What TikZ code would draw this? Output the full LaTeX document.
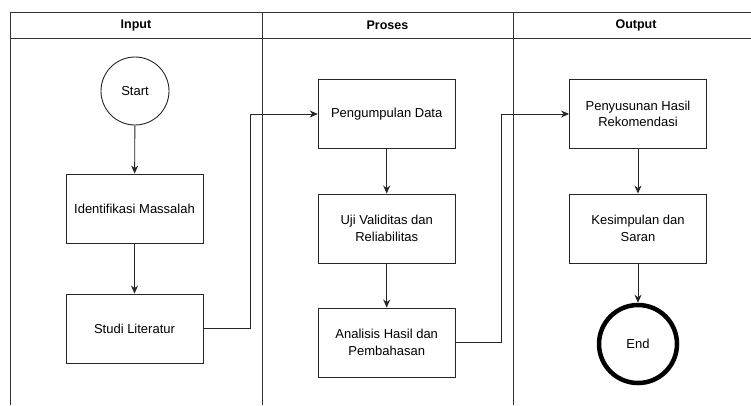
\documentclass[tikz,border=0pt]{standalone}
\usepackage{fontspec}
\setmainfont{Liberation Sans}
\usetikzlibrary{arrows.meta,shadows}
\begin{document}
\begin{tikzpicture}[x=1pt,y=-1pt,
  lane/.style={draw=black!80,line width=0.9pt},
  hdr/.style={font=\fontsize{12.5}{14}\selectfont\bfseries},
  proc/.style={draw=black!85,line width=0.9pt,rectangle,minimum width=137pt,minimum height=69pt,align=center,font=\fontsize{13}{16.5}\selectfont,inner sep=2pt},
  startc/.style={draw=black!85,line width=0.9pt,circle,minimum size=68pt,inner sep=0pt,font=\fontsize{13}{16}\selectfont},
  endc/.style={draw=black,line width=4.5pt,circle,minimum size=78pt,inner sep=0pt,font=\fontsize{13}{16}\selectfont,fill=white,drop shadow={opacity=0.35,shadow xshift=1.5pt,shadow yshift=-2pt}},
  conn/.style={draw=black!85,line width=0.9pt,-{Stealth[length=8pt,width=7pt]}}
]
\useasboundingbox (0,0) rectangle (751,405);
\fill[white] (0,0) rectangle (751,405);
% swimlanes
\draw[lane] (10,405) -- (10,12) -- (751,12);
\draw[lane] (10,38) -- (751,38);
\draw[lane] (262,12) -- (262,405);
\draw[lane] (513,12) -- (513,405);
\node[hdr] (hIn) at (136,25) {Input};
\node[hdr] (hPr) at (387.5,25) {Proses};
\node[hdr] (hOut) at (636,25) {Output};
% nodes
\node[startc] (start) at (135,91) {Start};
\node[proc] (ident) at (134.5,208.5) {Identifikasi Massalah};
\node[proc] (studi) at (134.5,328.5) {Studi Literatur};
\node[proc] (peng) at (386.7,114) {Pengumpulan Data};
\node[proc] (uji) at (386.7,228.5) {Uji Validitas dan\\Reliabilitas};
\node[proc] (anal) at (386.7,342.5) {Analisis Hasil dan\\Pembahasan};
\node[proc] (peny) at (638,114) {Penyusunan Hasil\\Rekomendasi};
\node[proc] (kes) at (638,228.5) {Kesimpulan dan\\Saran};
\node[endc] (end) at (638,344) {End};
% connectors
\coordinate (j1) at (250,0);
\coordinate (j2) at (501.4,0);
\draw[conn] (start) -- (ident);
\draw[conn] (ident) -- (studi);
\draw[conn] (studi.east) -- (studi.east -| j1) |- (peng.west);
\draw[conn] (peng) -- (uji);
\draw[conn] (uji) -- (anal);
\draw[conn] (anal.east) -- (anal.east -| j2) |- (peny.west);
\draw[conn] (peny) -- (kes);
\draw[conn] (kes) -- (end);
\end{tikzpicture}
\end{document}
